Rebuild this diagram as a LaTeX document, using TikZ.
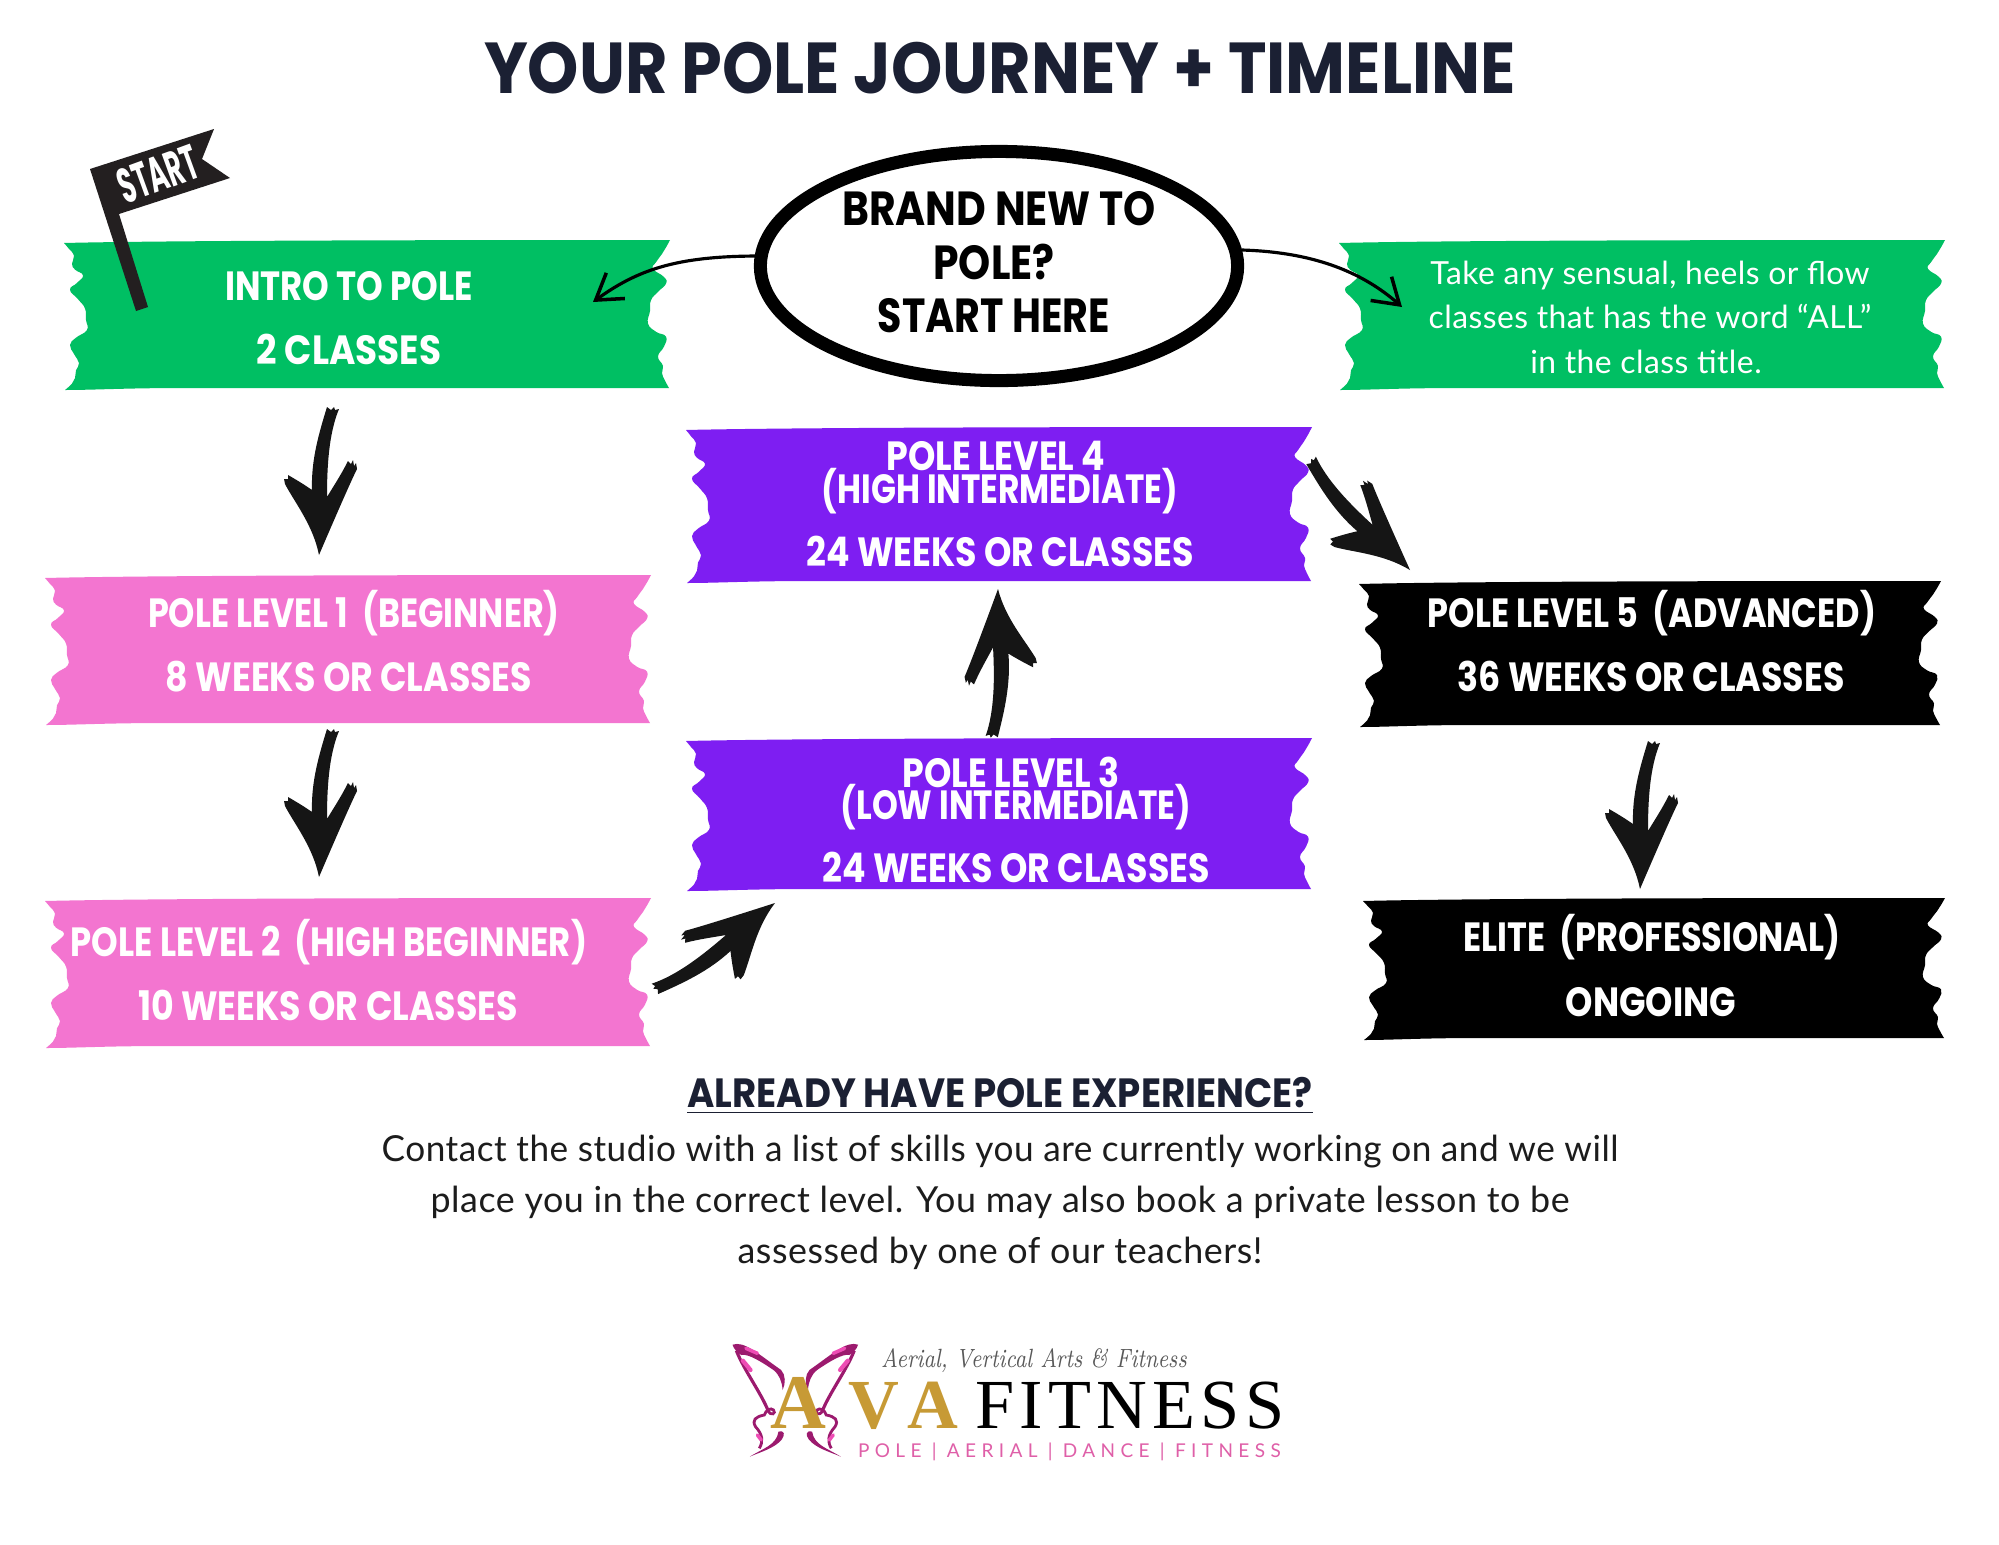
\documentclass[tikz,border=0pt]{standalone}
\usepackage{fontspec}
\usetikzlibrary{arrows.meta,shapes.geometric}
\newfontfamily\hd{Poppins}[FakeStretch=0.853]
\newfontfamily\hdt{Poppins}[FakeStretch=0.905]
\newfontfamily\hdo{Poppins}[FakeStretch=0.855]
\newfontfamily\hdx{Poppins}[FakeStretch=0.91]
\newfontfamily\hdn{Poppins}[FakeStretch=0.52]
\newfontfamily\bodyf{Lato}[LetterSpace=1.5]
\newfontfamily\logos{Liberation Serif}
\newfontfamily\logot{Liberation Serif}[LetterSpace=7.5]
\newfontfamily\tagf{Lato}[LetterSpace=28.5]
\definecolor{grn}{HTML}{00BF63}
\definecolor{pnk}{HTML}{F375D0}
\definecolor{prp}{HTML}{7E1EF2}
\definecolor{navy}{HTML}{1B2033}
\definecolor{ink}{HTML}{1C1C1C}
\definecolor{brushc}{HTML}{151515}
\definecolor{flagc}{HTML}{231F20}
\definecolor{wingd}{HTML}{9C1A6E}
\definecolor{wingb}{HTML}{EE4DB5}
\definecolor{gold}{HTML}{C79A35}
\definecolor{tagc}{HTML}{DF5FA8}
\newcommand\xs[2]{\scalebox{#1}[1]{#2}}
\newcommand\lp{\raisebox{-0.7pt}{(}}
\newcommand\rp{\raisebox{-0.7pt}{)}}
\tikzset{
  every node/.style={inner sep=0pt,outer sep=0pt},
  lbl/.style={anchor=base,text=white,font=\hd\bfseries\fontsize{11.6}{14}\selectfont},
  reglbl/.style={anchor=base,text=white,font=\bodyf\fontsize{9.05}{11}\selectfont},
  ovlbl/.style={anchor=base,text=black,font=\hdo\bfseries\fontsize{13.6}{16}\selectfont},
  bodylbl/.style={anchor=base,text=ink,font=\bodyf\fontsize{10.2}{13}\selectfont},
  curved/.style={-{Straight Barb[length=7pt,width=9pt,line width=1pt]},line width=0.9pt,black},
}
% tape: name, x0, y0, x1, y1, colour
\newcommand\tape[6]{%
  \pgfmathsetmacro\tw{#4-#2}\pgfmathsetmacro\th{#5-#3}%
  \begin{scope}[shift={(#2,#3)}]
  \fill[#6] (0,3)
    .. controls (\tw*.2,0) and (\tw*.8,0) .. (\tw,0)
    -- plot[smooth,tension=.8] coordinates {(\tw,0) (\tw-4,.05*\th) (\tw-8,.094*\th) (\tw-14,.15*\th) (\tw-17,.195*\th) (\tw-6,.25*\th) (\tw-4,.295*\th) (\tw-12,.35*\th) (\tw-19,.407*\th) (\tw-20,.48*\th) (\tw-22,.564*\th) (\tw-14,.62*\th) (\tw-4,.653*\th) (\tw-6,.72*\th) (\tw-12,.787*\th) (\tw-7,.85*\th) (\tw-8,.899*\th) (\tw-5,.95*\th) (\tw-1,\th)}
    -- (\tw*.2,\th) .. controls (\tw*.1,\th) and (\tw*.05,\th+2) .. (1,\th+2)
    -- plot[smooth,tension=.8] coordinates {(1,\th+2) (8,.97*\th) (11,.933*\th) (12,.88*\th) (15,.832*\th) (10,.77*\th) (6,.709*\th) (12,.66*\th) (23,.608*\th) (22,.54*\th) (21,.463*\th) (14,.40*\th) (6,.336*\th) (13,.29*\th) (19,.239*\th) (11,.2*\th) (8,.161*\th) (10,.105*\th) (5,.06*\th) (0,3)}
    -- cycle;
  \end{scope}
  \node[minimum width=\tw*0.01cm,minimum height=\th*0.01cm] (#1) at ({(#2+#4)/2},{(#3+#5)/2}) {};%
}
% brush arrow: tip coordinate, rotation
\newcommand\brush[2]{%
  \begin{scope}[shift={(#1)},rotate=#2]
  \fill[brushc] (0,0) .. controls (6,-14) and (30,-70) .. (38,-86)
    -- (37,-92) -- (35,-89) -- (34,-95) -- (32,-91) -- (29,-94)
    .. controls (22,-80) and (14,-68) .. (8,-58)
    .. controls (8,-90) and (10,-122) .. (20,-146)
    -- (16,-145) -- (15,-148) -- (12,-145) -- (8,-148)
    .. controls (0,-122) and (-8,-95) .. (-7,-65)
    .. controls (-14,-70) and (-24,-76) .. (-31,-80)
    -- (-31,-76) -- (-35,-76) -- (-34,-71)
    .. controls (-24,-52) and (-6,-30) .. (0,0) -- cycle;
  \end{scope}%
}
\newcommand\wingpart{%
  \fill[wingd] (85,74) .. controls (115,62) and (150,100) .. (212,150)
     .. controls (224,165) and (224,190) .. (216,210)
     .. controls (214,185) and (208,165) .. (192,150)
     .. controls (160,125) and (125,100) .. (108,105)
     .. controls (100,100) and (88,88) .. (85,74) -- cycle;
  \draw[wingd,line width=0.9pt] (95,92) .. controls (115,150) and (160,220) .. (178,272);
  \draw[wingd,line width=0.8pt] (178,272) .. controls (185,290) and (200,280) .. (192,270) .. controls (185,262) and (172,270) .. (168,285)
     .. controls (145,290) and (135,300) .. (145,320) .. controls (165,345) and (165,365) .. (155,385);
  \fill[wingd] (130,410) .. controls (165,385) and (200,375) .. (205,335)
     .. controls (222,330) and (222,345) .. (214,358)
     .. controls (195,385) and (160,395) .. (130,410) -- cycle;
  \draw[wingb,line width=1.2pt,line cap=round] (112,122) -- (132,150);
  \draw[wingb,line width=1pt,line cap=round] (150,345) -- (160,360);
  \draw[wingb,line width=1pt,line cap=round] (120,85) -- (150,100);
}
\begin{document}
\begin{tikzpicture}[x=0.01cm,y=-0.01cm]
\useasboundingbox (0,0) rectangle (1999,1545);
\fill[white] (0,0) rectangle (1999,1545);
\node[anchor=base,text=navy,font=\hdt\bfseries\fontsize{20.5}{24}\selectfont] (title) at (1000,93) {YOUR POLE JOURNEY + TIMELINE};

\tape{intro}{64}{240}{670}{388}{grn}
\tape{allc}{1339}{240}{1945}{388}{grn}
\tape{lfour}{686}{427}{1312}{581}{prp}
\tape{lthree}{686}{738}{1312}{889}{prp}
\tape{lone}{45}{575}{651}{723}{pnk}
\tape{ltwo}{45}{898}{651}{1046}{pnk}
\tape{lfive}{1359}{581}{1941}{725}{black}
\tape{elite}{1363}{898}{1945}{1038}{black}

% flag
\fill[flagc] (90,169) -- (214,129) -- (202,159) -- (230,178) -- (119,214) -- (148,307) -- (136,311) -- cycle;
\node[text=white,rotate=20,font=\hdn\bfseries\fontsize{14}{16}\selectfont] (startlbl) at (158,174) {START};

\node[lbl] (t1a) at (349,300) {\xs{0.975}{INTRO TO POLE}};
\node[lbl] (t1b) at (349,364) {\xs{1.03}{2 CLASSES}};
\node[reglbl] (g1) at (1650,284) {Take any sensual, heels or flow};
\node[reglbl] (g2) at (1650,328) {classes that has the word “ALL”};
\node[reglbl] (g3) at (1646,373) {in the class title.};
\node[lbl] (p4a) at (996,470) {POLE LEVEL 4};
\node[lbl] (p4b) at (1000,503) {\xs{0.942}{\lp HIGH INTERMEDIATE\rp}};
\node[lbl] (p4c) at (1000,566) {24 WEEKS OR CLASSES};
\node[lbl] (p3a) at (1011,787) {POLE LEVEL 3};
\node[lbl] (p3b) at (1016,819) {\xs{0.945}{\lp LOW INTERMEDIATE\rp}};
\node[lbl] (p3c) at (1016,882) {24 WEEKS OR CLASSES};
\node[lbl] (l1a) at (354,627) {\xs{0.96}{POLE LEVEL 1\ \ (BEGINNER)}};
\node[lbl] (l1b) at (349,691) {8 WEEKS OR CLASSES};
\node[lbl] (l2a) at (329,956) {\xs{0.973}{POLE LEVEL 2\ \ (HIGH BEGINNER)}};
\node[lbl] (l2b) at (328,1020) {10 WEEKS OR CLASSES};
\node[lbl] (l5a) at (1652,627) {\xs{0.964}{POLE LEVEL 5\ \ (ADVANCED)}};
\node[lbl] (l5b) at (1651,691) {36 WEEKS OR CLASSES};
\node[lbl] (e1) at (1652,951) {\xs{0.964}{ELITE\ \ (PROFESSIONAL)}};
\node[lbl] (e2) at (1651,1016) {ONGOING};

% start oval
\node[ellipse,draw=black,line width=13pt*0.285,fill=white,minimum width=4.77cm,minimum height=2.29cm] (oval) at (999,266) {};
\node[ovlbl] (o1) at (999,225) {BRAND NEW TO};
\node[ovlbl] (o2) at (994,279) {POLE?};
\node[ovlbl] (o3) at (994,332) {\xs{0.968}{START HERE}};

% thin curved connectors
\coordinate (cl) at (593,302);
\coordinate (cr) at (1402,307);
\draw[curved] (oval.west |- 0,256) .. controls (680,256) and (640,268) .. (cl);
\draw[curved] ([xshift=0.04cm]oval.east |- 0,250) .. controls (1310,252) and (1360,270) .. (cr);

% brush arrows
\coordinate (b1) at (319,555);
\coordinate (b2) at (319,877);
\coordinate (b3) at (1640,889);
\coordinate (b4) at (998,589);
\coordinate (b5) at (775,903);
\coordinate (b6) at (1410,570);
\brush{b1}{0}
\brush{b2}{0}
\brush{b3}{0}
\brush{b4}{183}
\brush{b5}{131}
\brush{b6}{47.5}

% lower text
\node[anchor=base,text=navy,font=\hdx\bfseries\fontsize{11.6}{14}\selectfont] (exp) at (1000,1107) {\underline{ALREADY HAVE POLE EXPERIENCE?}};
\node[bodylbl] (b1l) at (1000,1161) {\xs{0.981}{Contact the studio with a list of skills you are currently working on and we will}};
\node[bodylbl] (b2l) at (1000,1212) {place you in the correct level. You may also book a private lesson to be};
\node[bodylbl] (b3l) at (1000,1263) {assessed by one of our teachers!};

% logo
\begin{scope}[shift={(700,1320)},xscale=0.3827,yscale=0.3333]
  \wingpart
  \begin{scope}[shift={(498,0)},xscale=-1]
    \wingpart
  \end{scope}
\end{scope}
\node[anchor=base,text=gold,font=\logos\bfseries\fontsize{22}{24}\selectfont] (la) at (798,1428) {A};
\node[anchor=base,text=gold,font=\logos\bfseries\fontsize{20}{24}\selectfont] (lv) at (874,1428) {V};
\node[anchor=base,text=gold,font=\logos\bfseries\fontsize{20}{24}\selectfont] (la2) at (933,1428) {A};
\node[anchor=base west,text=black,font=\logot\fontsize{20}{24}\selectfont] (lf) at (975,1428) {FITNESS};
\node[anchor=base west,text=tagc,font=\tagf\fontsize{5.4}{7}\selectfont] (lt) at (858,1457) {POLE | AERIAL | DANCE | FITNESS};
\node[anchor=base west,text=black!65,font=\rmfamily\itshape\fontsize{7.5}{9}\selectfont] (ls) at (881,1367) {\xs{0.8}{Aerial, Vertical Arts \& Fitness}};
\end{tikzpicture}
\end{document}
